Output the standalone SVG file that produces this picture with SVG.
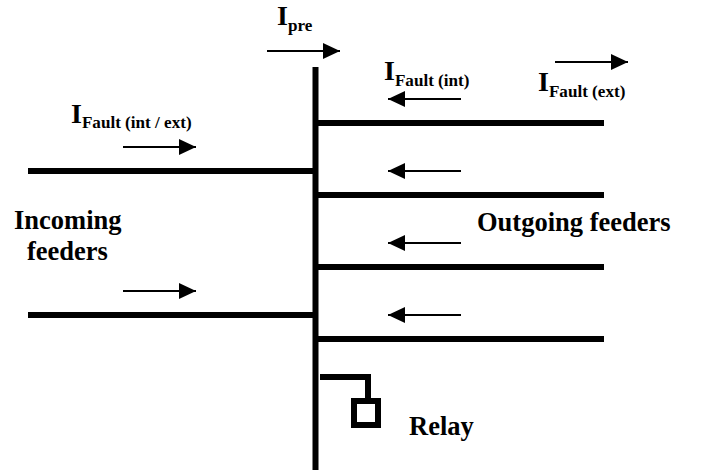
<svg xmlns="http://www.w3.org/2000/svg" width="701" height="470" viewBox="0 0 701 470">
<style>
text{font-family:"Liberation Serif","Times New Roman",serif;font-weight:bold;fill:#000}
.l{font-size:26.500px}
.i{font-size:28px}
.s{font-size:17.100px}
.bar{stroke:#000;stroke-width:6;fill:none}
.arr{stroke:#000;stroke-width:2;fill:none;marker-end:url(#h)}
</style>
<defs>
<marker id="h" markerUnits="userSpaceOnUse" markerWidth="18" markerHeight="16" refX="17" refY="8" orient="auto">
<path d="M0 0L17 8L0 16Z" fill="#000"/>
</marker>
</defs>
<rect width="701" height="470" fill="#fff"/>
<g id="connectors">
<path class="bar" d="M315.500 67V470"/>
<path class="bar" d="M318 123H604M318 195H604M318 267H604M318 339H604"/>
<path class="bar" d="M28 171H315M28 315H315"/>
<path class="bar" d="M320 377H368V399"/>
<path class="arr" d="M267 51H340"/>
<path class="arr" d="M555 62H628"/>
<path class="arr" d="M461 99H388"/>
<path class="arr" d="M461 171H388"/>
<path class="arr" d="M461 243H388"/>
<path class="arr" d="M461 315H388"/>
<path class="arr" d="M123 147H196"/>
<path class="arr" d="M123 291H196"/>
</g>
<g id="relay"><rect class="bar" x="354" y="401" width="24" height="24"/><text class="l" x="409" y="435">Relay</text></g>
<g id="label-ipre"><text x="277" y="25"><tspan class="i">I</tspan><tspan class="s" dy="6">pre</tspan></text></g>
<g id="label-int"><text x="384" y="80"><tspan class="i">I</tspan><tspan class="s" dy="6">Fault (int)</tspan></text></g>
<g id="label-ext"><text x="538" y="91"><tspan class="i">I</tspan><tspan class="s" dy="6">Fault (ext)</tspan></text></g>
<g id="label-intext"><text x="71" y="123"><tspan class="i">I</tspan><tspan class="s" dy="5">Fault (int / ext)</tspan></text></g>
<g id="incoming"><text class="l" x="14" y="229">Incoming</text><text class="l" x="27" y="260">feeders</text></g>
<g id="outgoing"><text class="l" x="477" y="231">Outgoing feeders</text></g>
</svg>
